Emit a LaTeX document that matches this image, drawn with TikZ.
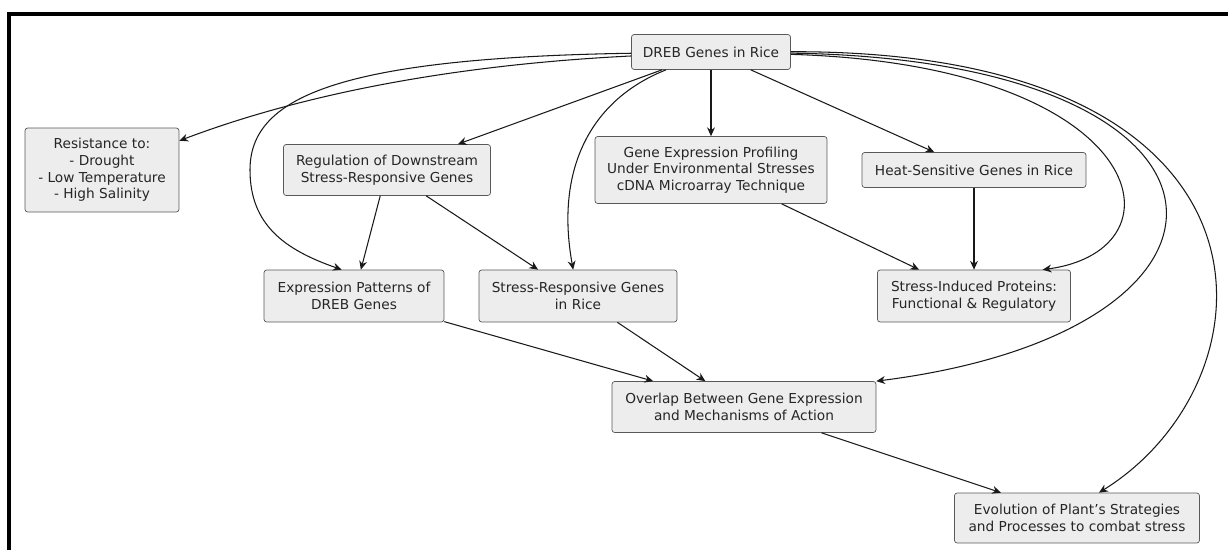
\documentclass[tikz,border=0pt]{standalone}
\usepackage{fontspec}
\setmainfont{DejaVu Sans}
\usetikzlibrary{arrows.meta}
\tikzstyle{genebox} = [draw=black!65, fill=black!7, rectangle, rounded corners=1.5pt,
    align=center, inner sep=2pt, text=black!85, font=\fontsize{7.8}{9.5}\selectfont]
\tikzstyle{link} = [draw=black!90, line width=0.6pt, -{Stealth[length=5pt,width=4.5pt]}]

\begin{document}
\begin{tikzpicture}[x=0.02cm,y=-0.02cm]
\useasboundingbox (0,0) rectangle (1228,550);
\draw[line width=1.8pt] (9,550) -- (9,14) -- (1228,14);

\node[genebox, minimum width=3.18cm, minimum height=0.70cm] (dreb) at (711,52) {DREB Genes in Rice};
\node[genebox, minimum width=3.08cm, minimum height=1.68cm] (resist) at (102,170)
    {Resistance to:\\- Drought\\- Low Temperature\\- High Salinity};
\node[genebox, minimum width=4.14cm, minimum height=1.02cm] (regul) at (387,170)
    {Regulation of Downstream\\Stress-Responsive Genes};
\node[genebox, minimum width=4.64cm, minimum height=1.34cm] (profil) at (711,170)
    {Gene Expression Profiling\\Under Environmental Stresses\\cDNA Microarray Technique};
\node[genebox, minimum width=4.48cm, minimum height=0.70cm] (heat) at (974,170) {Heat-Sensitive Genes in Rice};
\node[genebox, minimum width=3.60cm, minimum height=1.04cm] (exprpat) at (354,296)
    {Expression Patterns of\\DREB Genes};
\node[genebox, minimum width=3.96cm, minimum height=1.04cm] (stressresp) at (578,296)
    {Stress-Responsive Genes\\in Rice};
\node[genebox, minimum width=3.86cm, minimum height=1.04cm] (induced) at (974,296)
    {Stress-Induced Proteins:\\Functional \& Regulatory};
\node[genebox, minimum width=5.28cm, minimum height=1.02cm] (overlap) at (744,407)
    {Overlap Between Gene Expression\\and Mechanisms of Action};
\node[genebox, minimum width=4.90cm, minimum height=1.00cm] (evol) at (1077,518)
    {Evolution of Plant's Strategies\\and Processes to combat stress};

\draw[link] (dreb) .. controls (450,65) and (300,95) .. (resist);
\draw[link] (dreb) .. controls (330,58) and (250,100) .. (250,170)
    .. controls (250,225) and (285,250) .. (exprpat.115);
\draw[link] (dreb) -- (regul);
\draw[link] (dreb) .. controls (590,100) and (555,170) .. (stressresp);
\draw[link] (dreb) -- (profil);
\draw[link] (dreb) -- (heat);
\draw[link] (dreb) .. controls (1150,65) and (1190,250) .. (induced.21);
\draw[link] (dreb) .. controls (1270,60) and (1280,330) .. (overlap.north east);
\draw[link] (dreb) .. controls (1300,50) and (1280,380) .. (evol.49);
\draw[link] (regul) -- (exprpat);
\draw[link] (regul) -- (stressresp);
\draw[link] (profil) -- (induced);
\draw[link] (heat) -- (induced);
\draw[link] (exprpat) -- (overlap);
\draw[link] (stressresp) -- (overlap);
\draw[link] (overlap) -- (evol);
\end{tikzpicture}
\end{document}
